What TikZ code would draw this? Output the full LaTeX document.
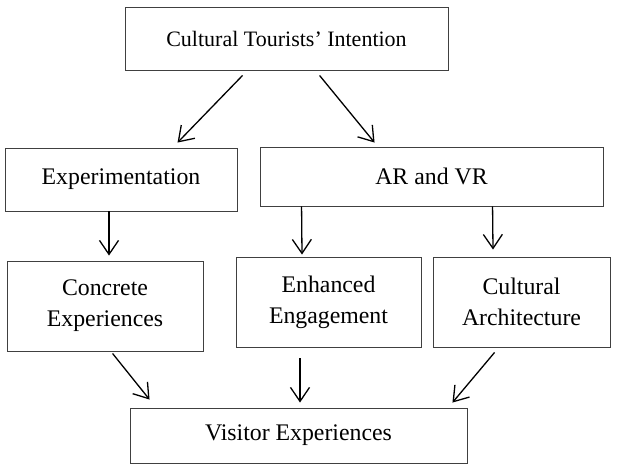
\documentclass[tikz,border=0pt]{standalone}
\usepackage{fontspec}
\setmainfont{Liberation Serif}
\usetikzlibrary{arrows.meta,calc}
\begin{document}
\begin{tikzpicture}[x=1pt,y=-1pt,
  box/.style={draw=black!75,line width=0.9pt,rectangle,inner sep=0pt,align=center,font=\fontsize{23.8}{31}\selectfont},
  arr/.style={line width=1.3pt,-{Straight Barb[length=14pt,width=19pt,line width=1.3pt]}}]
\useasboundingbox (0,0) rectangle (617,464);
\node[box,minimum width=323pt,minimum height=63pt,font=\fontsize{22}{26}\selectfont] (top) at (286.5,38.5) {Cultural Tourists’ Intention};
\node[box,minimum width=232pt,minimum height=63pt] (exp) at (121,179.5) {Experimentation};
\node[box,minimum width=343pt,minimum height=59pt] (ar) at (431.5,176.5) {AR and VR};
\node[box,minimum width=196pt,minimum height=90pt] (con) at (105,306) {Concrete\\Experiences};
\node[box,minimum width=185pt,minimum height=90pt] (enh) at (328.5,302) {Enhanced\\Engagement};
\node[box,minimum width=177pt,minimum height=90pt] (cul) at (521.5,302) {Cultural\\Architecture};
\node[box,minimum width=337pt,minimum height=55pt] (vis) at (298.5,435.5) {Visitor Experiences};
\draw[arr] ($(top.south west)+(118,5)$) -- ($(exp.north west)+(173,-5)$);
\draw[arr] ($(top.south west)+(195,5)$) -- ($(ar.north west)+(115,-4)$);
\draw[arr] ($(exp.south)+(-12,0)$) -- ($(con.north)+(4,-5)$);
\draw[arr] ($(ar.south west)+(42,0)$) -- ($(enh.north)+(-26.5,-2)$);
\draw[arr] ($(ar.south west)+(233,0)$) -- ($(cul.north)+(-28.5,-7)$);
\draw[arr] ($(con.south west)+(106,2)$) -- ($(vis.north west)+(20,-8)$);
\draw[arr] ($(enh.south)+(-28.5,11)$) -- ($(vis.north)+(1.5,-5)$);
\draw[arr] ($(cul.south west)+(62,5)$) -- ($(vis.north east)+(-15,-5)$);
\end{tikzpicture}
\end{document}
